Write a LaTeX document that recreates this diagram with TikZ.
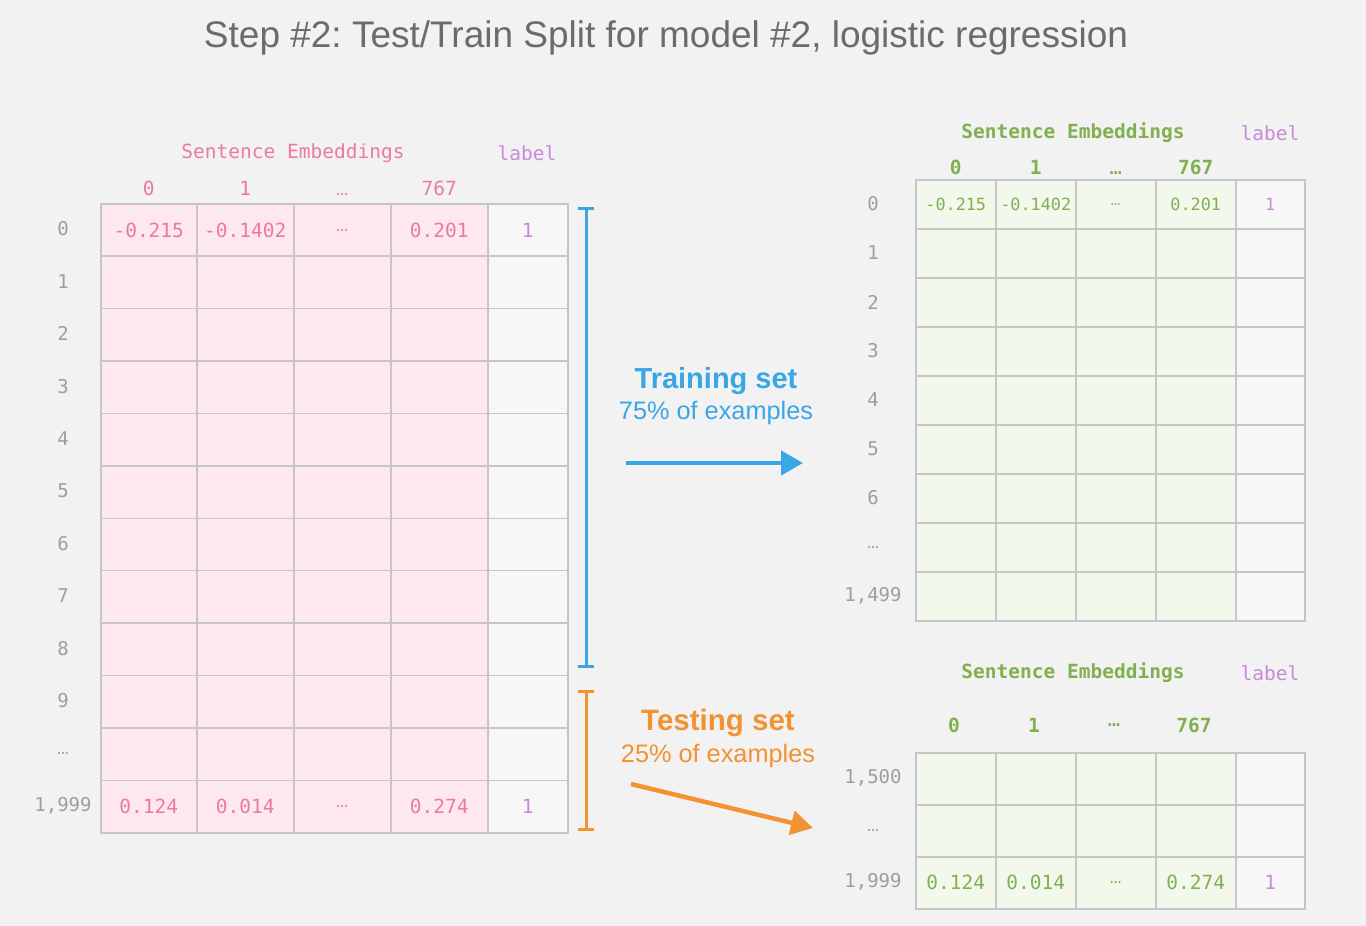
\documentclass[tikz,border=0pt]{standalone}
\usepackage{fontspec}
\setmainfont{Liberation Sans}
\newfontfamily\monof{DejaVu Sans Mono}
\newfontfamily\ellf{Liberation Mono}
\newcommand{\myell}{{\ellf …}}
\frenchspacing
\usetikzlibrary{arrows.meta,calc}
\definecolor{bg}{HTML}{F2F2F2}
\definecolor{titlegray}{HTML}{6B6B6B}
\definecolor{pinkfill}{HTML}{FCE8EE}
\definecolor{pinktext}{HTML}{EC7A9C}
\definecolor{labelfill}{HTML}{F7F7F7}
\definecolor{purpletext}{HTML}{C88BDA}
\definecolor{greenfill}{HTML}{F3F8EC}
\definecolor{greentext}{HTML}{80B04F}
\definecolor{gridgray}{HTML}{C6C6C6}
\definecolor{rowgray}{HTML}{9E9E9E}
\definecolor{trainblue}{HTML}{3AA6E6}
\definecolor{testorange}{HTML}{F39233}
\tikzset{
  titletext/.style={text=titlegray, font=\fontsize{37}{42}\selectfont},
  cellbox/.style={draw=gridgray, line width=1.5pt, anchor=north west, inner sep=0pt, minimum height=#1},
  pinkcell/.style={cellbox=52.42pt, fill=pinkfill},
  lablcell/.style={cellbox=#1, fill=labelfill},
  greencell/.style={cellbox=#1, fill=greenfill},
  pinkval/.style={text=pinktext, font=\monof\fontsize{19.5}{22}\selectfont},
  greenval/.style={text=greentext, font=\monof\fontsize{19.5}{22}\selectfont},
  greensmall/.style={text=greentext, font=\monof\fontsize{16.8}{20}\selectfont},
  purpleval/.style={text=purpletext, font=\monof\fontsize{19.5}{22}\selectfont},
  purplesmall/.style={text=purpletext, font=\monof\fontsize{16.8}{20}\selectfont},
  rowlbl/.style={text=rowgray, font=\monof\fontsize{19}{22}\selectfont},
  pinkhead/.style={text=pinktext, font=\monof\fontsize{19.5}{22}\selectfont},
  greenhead/.style={text=greentext, font=\monof\bfseries\fontsize{19.5}{22}\selectfont},
  purplehead/.style={text=purpletext, font=\monof\fontsize{19.5}{22}\selectfont},
  bigblue/.style={text=trainblue, font=\bfseries\fontsize{29}{32}\selectfont},
  smallblue/.style={text=trainblue, font=\fontsize{25.3}{28}\selectfont},
  bigorange/.style={text=testorange, font=\bfseries\fontsize{29.5}{32}\selectfont},
  smallorange/.style={text=testorange, font=\fontsize{25.3}{28}\selectfont},
  bracketline/.style={line width=3pt, {Bar[width=16pt,line width=3pt]}-{Bar[width=16pt,line width=3pt]}},
  setarrow/.style={line width=4.5pt, -{Triangle[length=22pt,width=24pt]}},
}
\begin{document}
\begin{tikzpicture}[x=1pt,y=-1pt]
\useasboundingbox[fill=bg] (0,0) rectangle (1366,926);

% title
\node[titletext] (title) at (666,38) {Step \#2: Test/Train Split for model \#2, logistic regression};

% ---------- left table ----------
\foreach \r in {0,...,11}{
  \foreach \c/\x/\w in {0/100/96,1/196/97,2/293/97,3/390/97}{
    \node[pinkcell, minimum width=\w pt] (L-\r-\c) at (\x,{203+\r*52.42}) {};
  }
  \node[lablcell=52.42pt, minimum width=80pt] (L-\r-4) at (487,{203+\r*52.42}) {};
}
\node[pinkhead] (Lhead) at (293,153) {Sentence Embeddings};
\node[purplehead] (Llab) at (527,153) {label};
\foreach \c/\t in {0/0,1/1,2/\myell,3/767}{
  \node[pinkhead, anchor=base] (Lcol-\c) at ($(L-0-\c.north)+(0,-8)$) {\t};
}
\foreach \c/\t in {0/-0.215,1/-0.1402,2/\myell,3/0.201}{
  \node[pinkval] (Lv0-\c) at (L-0-\c) {\t};
}
\node[purpleval] (Lv0-4) at (L-0-4) {1};
\foreach \c/\t in {0/0.124,1/0.014,2/\myell,3/0.274}{
  \node[pinkval] (Lv11-\c) at (L-11-\c) {\t};
}
\node[purpleval] (Lv11-4) at (L-11-4) {1};
\foreach \r/\t in {0/0,1/1,2/2,3/3,4/4,5/5,6/6,7/7,8/8,9/9,10/\myell,11/{1,999}}{
  \node[rowlbl] (Lrow-\r) at ($(63,0)+(0,{229+\r*52.42})$) {\t};
}

% brackets
\coordinate (btop) at (586,207);
\coordinate (bbot) at (586,668);
\coordinate (otop) at (586,690);
\coordinate (obot) at (586,831);
\draw[bracketline, trainblue] (btop) -- (bbot);
\draw[bracketline, testorange] (otop) -- (obot);

% training label + arrow
\node[bigblue] (train) at (716,381) {Training set};
\node[smallblue] (trainpct) at (716,413) {75\% of examples};
\coordinate (ta) at (626,463);
\coordinate (tb) at (803,463);
\draw[setarrow, trainblue] (ta) -- (tb);

% testing label + arrow
\node[bigorange] (test) at (718,723) {Testing set};
\node[smallorange] (testpct) at (718,756) {25\% of examples};
\coordinate (oa) at (631,784);
\coordinate (ob) at (813,828);
\draw[setarrow, testorange] (oa) -- (ob);

% ---------- right top table ----------
\foreach \r in {0,...,8}{
  \foreach \c/\x in {0/915,1/995,2/1075,3/1155}{
    \node[greencell=49pt, minimum width=80pt] (T-\r-\c) at (\x,{179+\r*49}) {};
  }
  \node[lablcell=49pt, minimum width=69pt] (T-\r-4) at (1235,{179+\r*49}) {};
}
\node[greenhead] (Thead) at (1073,133) {Sentence Embeddings};
\node[purplehead] (Tlab) at (1270,133) {label};
\foreach \c/\t in {0/0,1/1,2/\myell,3/767}{
  \node[greenhead, anchor=base] (Tcol-\c) at ($(T-0-\c.north)+(0,-5)$) {\t};
}
\foreach \c/\t in {0/-0.215,1/-0.1402,2/\myell,3/0.201}{
  \node[greensmall] (Tv0-\c) at (T-0-\c) {\t};
}
\node[purplesmall] (Tv0-4) at (T-0-4) {1};
\foreach \r/\t in {0/0,1/1,2/2,3/3,4/4,5/5,6/6,7/\myell,8/{1,499}}{
  \node[rowlbl] (Trow-\r) at ($(873,0)+(0,{204+\r*49})$) {\t};
}

% ---------- right bottom table ----------
\foreach \r in {0,...,2}{
  \foreach \c/\x in {0/915,1/995,2/1075,3/1155}{
    \node[greencell=52pt, minimum width=80pt] (B-\r-\c) at (\x,{752+\r*52}) {};
  }
  \node[lablcell=52pt, minimum width=69pt] (B-\r-4) at (1235,{752+\r*52}) {};
}
\node[greenhead] (Bhead) at (1073,673) {Sentence Embeddings};
\node[purplehead] (Blab) at (1270,673) {label};
\foreach \c/\x/\t in {0/954/0,1/1034/1,2/1114/\myell,3/1194/767}{
  \node[greenhead] (Bcol-\c) at (\x,725) {\t};
}
\foreach \c/\t in {0/0.124,1/0.014,2/\myell,3/0.274}{
  \node[greenval] (Bv2-\c) at (B-2-\c) {\t};
}
\node[purpleval] (Bv2-4) at (B-2-4) {1};
\foreach \r/\t in {0/{1,500},1/\myell,2/{1,999}}{
  \node[rowlbl] (Brow-\r) at ($(873,0)+(0,{778+\r*52})$) {\t};
}
\end{tikzpicture}
\end{document}
